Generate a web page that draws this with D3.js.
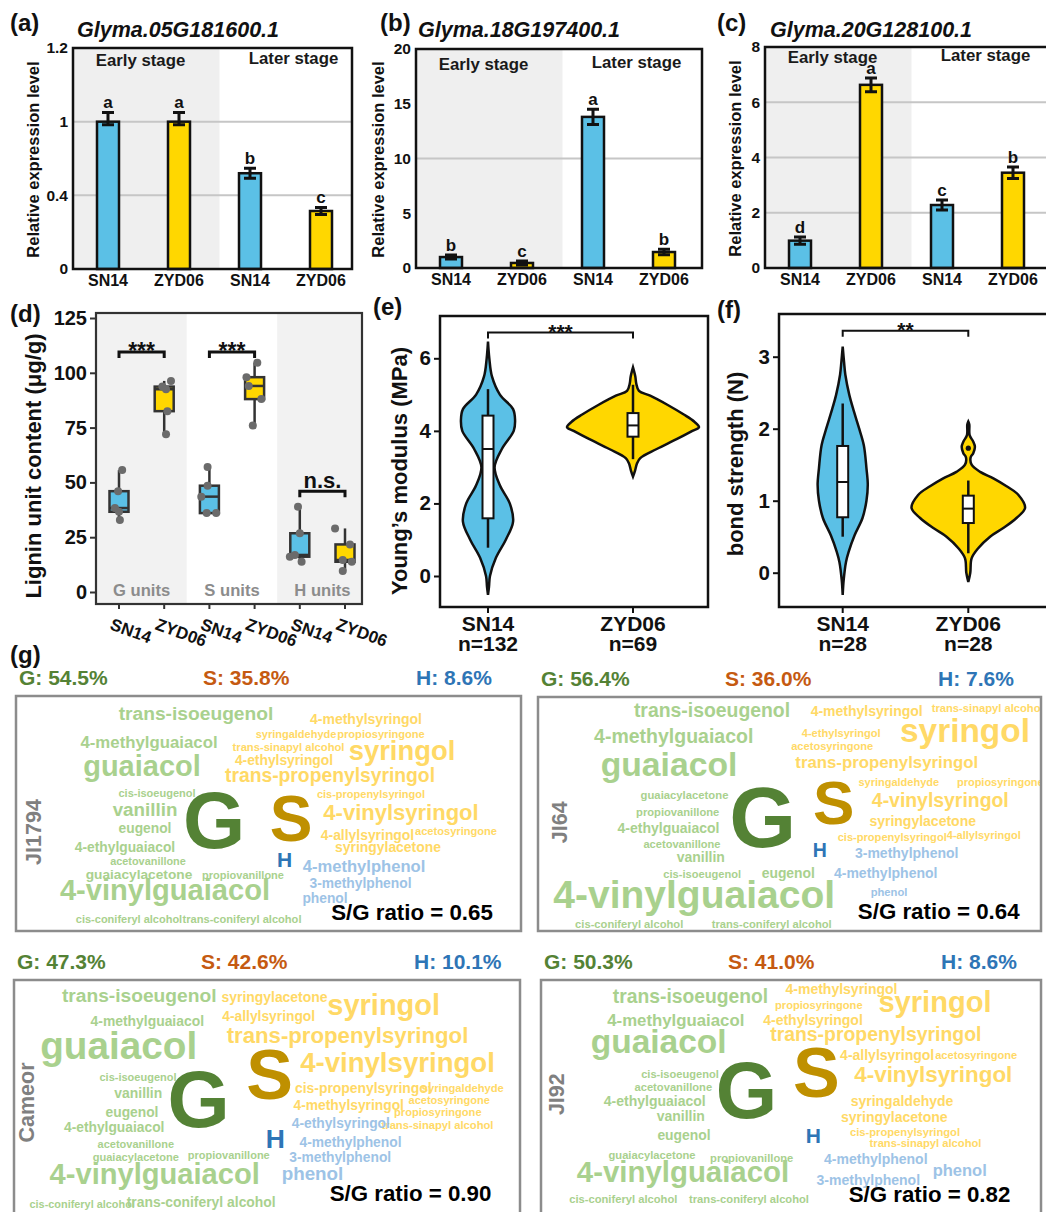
<!DOCTYPE html>
<html lang="en">
<head>
<meta charset="UTF-8">
<title>Lignin and stem mechanics: SN14 vs ZYD06</title>
<script src="https://d3js.org/d3.v7.min.js"></script>
<style>
  body { margin: 0; background: #ffffff; }
  svg { display: block; }
  text { font-family: "Liberation Sans", Arial, Helvetica, sans-serif; font-weight: bold; }
</style>
</head>
<body>
<script>
// ---------- (a)-(c) relative expression ----------
const barCats = ["SN14", "ZYD06", "SN14", "ZYD06"];
const stageNames = ["Early stage", "Later stage"];
const geneNames = ["Glyma.05G181600.1", "Glyma.18G197400.1", "Glyma.20G128100.1"];
const exprA = [1.0, 1.0, 0.58, 0.315];
const errA = [0.025, 0.025, 0.04, 0.019];
const letA = ["a", "a", "b", "c"];
const ticksA = [0, 0.4, 1, 1.2];
const gridA = [0.4, 1];
const exprB = [1.0, 0.46, 13.8, 1.46];
const errB = [0.18, 0.18, 0.7, 0.26];
const letB = ["b", "c", "a", "b"];
const ticksB = [0, 5, 10, 15, 20];
const gridB = [10];
const exprC = [0.99, 6.63, 2.28, 3.45];
const errC = [0.13, 0.25, 0.18, 0.21];
const letC = ["d", "a", "c", "b"];
const ticksC = [0, 2, 4, 6, 8];
const gridC = [2, 4, 6];

// ---------- (d) lignin unit content ----------
const unitNames = ["G units", "S units", "H units"];
const unitGenos = ["SN14", "ZYD06"];
const ligninVals = [
  [55.6, 46, 38.3, 36.6, 32.8],
  [96.3, 93.7, 92.5, 82.5, 72],
  [57, 48.5, 43.5, 36, 36],
  [104.6, 98, 94, 88, 76],
  [38.9, 26.8, 16.9, 16.1, 13.8],
  [29, 21.7, 14.6, 13.8, 9.6]
];
// horizontal jitter of each point, in category steps
const ligninJitter = [
  [0.07, -0.02, -0.09, 0, 0.02],
  [0.15, -0.04, 0.04, 0.07, 0.04],
  [-0.04, -0.04, -0.18, -0.06, 0.15],
  [0.06, -0.18, -0.13, 0.15, -0.04],
  [-0.04, 0, -0.11, -0.22, 0.04],
  [-0.22, 0.11, -0.05, 0.15, -0.05]
];
const ligninTicks = [0, 25, 50, 75, 100, 125];
const ligninSig = ["***", "***", "n.s."];
const ligninSigAt = [109.5, 109.5, 46];

// ---------- (e) Young's modulus, (f) bond strength ----------
const violinGroups = ["SN14", "ZYD06"];
const youngN = [132, 69];
const youngTicks = [0, 2, 4, 6];
// [value, relative density]
const youngDens = [
  [[-0.52, 0], [-0.3, 0.015], [0, 0.03], [0.5, 0.12], [1.0, 0.27], [1.5, 0.38], [2.0, 0.33], [2.5, 0.18],
   [3.0, 0.1], [3.5, 0.21], [4.0, 0.39], [4.3, 0.41], [4.6, 0.38], [5.0, 0.18], [5.5, 0.06], [6.0, 0.02], [6.46, 0]],
  [[2.74, 0], [2.9, 0.03], [3.1, 0.06], [3.25, 0.11], [3.5, 0.36], [3.77, 0.66], [4.0, 0.9], [4.1, 1.0],
   [4.25, 0.93], [4.45, 0.77], [4.72, 0.52], [4.97, 0.26], [5.1, 0.09], [5.3, 0.05], [5.5, 0.035], [5.75, 0]]
];
// [lower whisker, q1, median, q3, upper whisker]
const youngBox = [[0.78, 1.59, 3.5, 4.42, 5.15], [3.22, 3.84, 4.15, 4.49, 5.27]];
const youngOut = [[], []];
const youngSig = "***", youngSigAt = 6.71;

const bondN = [28, 28];
const bondTicks = [0, 1, 2, 3];
const bondDens = [
  [[-0.31, 0], [-0.1, 0.015], [0.15, 0.05], [0.29, 0.09], [0.52, 0.18], [0.76, 0.3], [1.0, 0.36], [1.22, 0.38],
   [1.45, 0.36], [1.77, 0.32], [2.0, 0.25], [2.24, 0.17], [2.47, 0.1], [2.75, 0.04], [2.93, 0.02], [3.14, 0]],
  [[-0.13, 0], [0, 0.03], [0.2, 0.05], [0.34, 0.15], [0.5, 0.33], [0.62, 0.53], [0.76, 0.73], [0.9, 0.86],
   [1.08, 0.76], [1.2, 0.58], [1.31, 0.38], [1.4, 0.18], [1.5, 0.05], [1.6, 0.035], [1.66, 0.075], [1.75, 0.1],
   [1.82, 0.075], [1.91, 0.02], [2.06, 0.015], [2.1, 0]]
];
const bondBox = [[0.5, 0.77, 1.26, 1.76, 2.35], [0.27, 0.69, 0.89, 1.07, 1.28]];
const bondOut = [[], [1.73]];
const bondSig = "**", bondSigAt = 3.36;

// ---------- (g) pyrolysis product word clouds ----------
const cloudSamples = ["JI1794", "JI64", "Cameor", "JI92"];
const pctG = [54.5, 56.4, 47.3, 50.3];
const pctS = [35.8, 36.0, 42.6, 41.0];
const pctH = [8.6, 7.6, 10.1, 8.6];
const sgRatio = [0.65, 0.64, 0.90, 0.82];
// [word, class, abundance size, cloud x, cloud y]
const cloudWords = [
  [
    ["trans-isoeugenol", "g", 19.2, 180, 24], ["4-methylguaiacol", "g", 16.8, 133, 52], ["guaiacol", "g", 29, 126, 80],
    ["cis-isoeugenol", "g", 11, 141, 101], ["vanillin", "g", 18.8, 129, 120], ["eugenol", "g", 13.8, 129, 137],
    ["4-ethylguaiacol", "g", 13.8, 109, 156], ["acetovanillone", "g", 10.9, 132, 169], ["guaiacylacetone", "g", 13.7, 123, 183],
    ["propiovanillone", "g", 11, 227, 183], ["4-vinylguaiacol", "g", 29.1, 149, 204], ["cis-coniferyl alcohol", "g", 11, 113, 227],
    ["trans-coniferyl alcohol", "g", 11.1, 226, 227],
    ["4-methylsyringol", "s", 14, 350, 28], ["syringaldehyde", "s", 11, 280, 42], ["propiosyringone", "s", 11.1, 365, 42],
    ["trans-sinapyl alcohol", "s", 11.2, 272.5, 55], ["4-ethylsyringol", "s", 13.8, 268, 69], ["syringol", "s", 27.4, 386, 64],
    ["trans-propenylsyringol", "s", 19.3, 314, 86], ["cis-propenylsyringol", "s", 11, 355, 102], ["4-vinylsyringol", "s", 22, 385, 124],
    ["4-allylsyringol", "s", 13.9, 351.5, 144], ["acetosyringone", "s", 11.1, 440, 139], ["syringylacetone", "s", 13.9, 372, 156],
    ["4-methylphenol", "h", 16.6, 348, 176], ["3-methylphenol", "h", 13.8, 344.5, 192], ["phenol", "h", 13.8, 309, 207],
    ["G", "G", 80, 198, 152], ["S", "S", 64, 275, 145], ["H", "H", 21, 268.5, 171]
  ],
  [
    ["trans-isoeugenol", "g", 19.4, 174, 19.7], ["4-methylguaiacol", "g", 19.5, 135.7, 46.3], ["guaiacol", "g", 33.7, 131, 78.7],
    ["guaiacylacetone", "g", 11.3, 146.5, 102], ["propiovanillone", "g", 11.2, 139.7, 118.7], ["4-ethylguaiacol", "g", 14, 130.5, 136.3],
    ["acetovanillone", "g", 11.1, 144, 150.7], ["vanillin", "g", 14, 162.8, 164.7], ["cis-isoeugenol", "g", 11.1, 164.2, 181.3],
    ["eugenol", "g", 13.9, 250.3, 181.3], ["4-vinylguaiacol", "g", 39, 156.2, 211.3], ["cis-coniferyl alcohol", "g", 11.2, 91.2, 230.7],
    ["trans-coniferyl alcohol", "g", 11.2, 233.7, 230.7],
    ["4-methylsyringol", "s", 14, 328.7, 18.7], ["trans-sinapyl alcohol", "s", 11.2, 449.7, 14.7], ["4-ethylsyringol", "s", 11.1, 303.2, 39.7],
    ["acetosyringone", "s", 11.1, 294.2, 53], ["syringol", "s", 33.4, 427, 45.3], ["trans-propenylsyringol", "s", 16.8, 348.7, 71.3],
    ["syringaldehyde", "s", 11, 360.8, 88.7], ["propiosyringone", "s", 11, 462.3, 88.7], ["4-vinylsyringol", "s", 19.4, 402.3, 109.7],
    ["syringylacetone", "s", 14, 384.7, 128.7], ["cis-propenylsyringol", "s", 11.1, 354.2, 144], ["4-allylsyringol", "s", 11, 445.8, 142.3],
    ["3-methylphenol", "h", 14, 368.7, 161.3], ["4-methylphenol", "h", 14, 347.7, 180.7], ["phenol", "h", 11.2, 351, 198.7],
    ["G", "G", 86, 224.8, 150.3], ["S", "S", 62, 295.7, 127], ["H", "H", 19.5, 281.7, 160.3]
  ],
  [
    ["trans-isoeugenol", "g", 19.2, 125.2, 22.3], ["4-methylguaiacol", "g", 13.9, 133.3, 46], ["guaiacol", "g", 38.7, 104.7, 79.3],
    ["cis-isoeugenol", "g", 11, 124, 100.7], ["vanillin", "g", 13.9, 124.3, 118.3], ["eugenol", "g", 13.8, 118, 136.7],
    ["4-ethylguaiacol", "g", 13.8, 100.2, 151.7], ["acetovanillone", "g", 11, 121.8, 168.3], ["guaiacylacetone", "g", 11.1, 121.8, 180.7],
    ["propiovanillone", "g", 11, 214.8, 179.3], ["4-vinylguaiacol", "g", 29.1, 140.7, 204], ["cis-coniferyl alcohol", "g", 10.9, 68.2, 228.3],
    ["trans-coniferyl alcohol", "g", 13.9, 187.2, 227.3],
    ["syringylacetone", "s", 13.9, 260.5, 21.7], ["syringol", "s", 29, 369.7, 35], ["4-allylsyringol", "s", 13.8, 254.7, 40.7],
    ["trans-propenylsyringol", "s", 22.2, 333.5, 62.7], ["4-vinylsyringol", "s", 27.6, 383.5, 91.7], ["cis-propenylsyringol", "s", 13.9, 349.3, 112.7],
    ["syringaldehyde", "s", 11.2, 448.8, 111.7], ["4-methylsyringol", "s", 13.8, 334.7, 130], ["acetosyringone", "s", 11, 435.2, 124.3],
    ["propiosyringone", "s", 11.1, 423.8, 136], ["trans-sinapyl alcohol", "s", 11.2, 423.5, 149],
    ["4-ethylsyringol", "h", 13.8, 326.8, 148.3], ["4-methylphenol", "h", 13.8, 336.5, 167.3], ["3-methylphenol", "h", 13.8, 326.2, 182.3],
    ["phenol", "h", 18.8, 298.5, 200],
    ["G", "G", 80, 184.5, 146.7], ["S", "S", 70, 255.7, 119.3], ["H", "H", 26.5, 261.3, 168.3]
  ],
  [
    ["trans-isoeugenol", "g", 19.3, 149.5, 22.7], ["4-methylguaiacol", "g", 16.8, 134.8, 46], ["guaiacol", "g", 33.5, 117.7, 73.3],
    ["cis-isoeugenol", "g", 11.1, 139, 98.3], ["acetovanillone", "g", 11.2, 132.3, 110.7], ["4-ethylguaiacol", "g", 14, 113.8, 125.7],
    ["vanillin", "g", 14, 139.8, 140.7], ["eugenol", "g", 13.9, 143, 160], ["guaiacylacetone", "g", 11.2, 111, 179.3],
    ["propiovanillone", "g", 11.2, 210.7, 182.3], ["4-vinylguaiacol", "g", 29.4, 142, 201.7], ["cis-coniferyl alcohol", "g", 11.2, 82.3, 223.3],
    ["trans-coniferyl alcohol", "g", 11.2, 208, 222.7],
    ["4-methylsyringol", "s", 14, 300.5, 14], ["propiosyringone", "s", 11.1, 277.8, 29.3], ["syringol", "s", 29.1, 394, 31.7],
    ["4-ethylsyringol", "s", 14, 272, 45], ["trans-propenylsyringol", "s", 19.4, 334.8, 61], ["4-allylsyringol", "s", 14, 346.2, 80],
    ["acetosyringone", "s", 11.1, 435.2, 79.3], ["4-vinylsyringol", "s", 22.4, 392.3, 102.3], ["syringaldehyde", "s", 14, 361, 125.7],
    ["syringylacetone", "s", 14, 353.3, 141.7], ["cis-propenylsyringol", "s", 11.2, 364, 155.7], ["trans-sinapyl alcohol", "s", 11.2, 384.5, 167.3],
    ["4-methylphenol", "h", 14, 334.8, 184.3], ["phenol", "h", 16.5, 418.7, 195.7], ["3-methylphenol", "h", 14, 327.3, 205],
    ["G", "G", 79, 205.5, 137.7], ["S", "S", 70, 275.3, 117.3], ["H", "H", 21, 272.3, 163.3]
  ]
];
const cloudLabelAt = [[17, 136], [21.3, 125.3], [12.7, 122.5], [15.7, 114.2]];
const cloudRatioAt = [[396, 224], [400.7, 222], [396.5, 220.7], [388.5, 221.7]];

// ---------- drawing ----------
const svg = d3.select("body").append("svg").attr("width", 1046).attr("height", 1212);
const BLUE = "#5bc0e6", YELLOW = "#ffd700", INK = "#111111";

function panelTag(label, x, y) {
  svg.append("text").attr("x", x).attr("y", y).attr("font-size", 24).attr("fill", INK).text(label);
}

function barPanel(p) {
  const g = svg.append("g");
  const b = p.box;
  const rows = p.values.map((v, i) => ({ i, v, e: p.errs[i], l: p.letters[i], c: barCats[i] }));
  const x = d3.scaleBand().domain(d3.range(rows.length)).range([b.x0 - 0.5, b.x0 - 0.5 + 4 * 71]);
  const y = d3.scaleLinear().domain(p.ticks)
    .range(p.ticks.map((t, i) => b.y1 - i * (b.y1 - b.y0) / (p.ticks.length - 1)));
  const cx = i => x(i) + x.bandwidth() / 2;
  const bw = 22, cap = 6;

  // early-stage shading
  g.append("rect").attr("x", b.x0).attr("y", b.y0)
    .attr("width", x(2) + 5 - b.x0).attr("height", b.y1 - b.y0).attr("fill", "#efefef");

  g.selectAll(".grid").data(p.grid).join("line")
    .attr("x1", b.x0).attr("x2", b.x1)
    .attr("y1", d => y(d)).attr("y2", d => y(d))
    .attr("stroke", "#c6c6c6").attr("stroke-width", 2);

  g.selectAll(".bar").data(rows).join("rect")
    .attr("x", d => cx(d.i) - bw / 2).attr("width", bw)
    .attr("y", d => y(d.v)).attr("height", d => y(0) - y(d.v))
    .attr("fill", d => d.i % 2 ? YELLOW : BLUE)
    .attr("stroke", INK).attr("stroke-width", 2.5);

  g.selectAll(".err").data(rows).join("path")
    .attr("d", d => {
      const xc = cx(d.i), t = y(d.v + d.e), u = y(d.v - d.e);
      return `M${xc - cap},${t}H${xc + cap}M${xc},${t}V${u}M${xc - cap},${u}H${xc + cap}`;
    })
    .attr("fill", "none").attr("stroke", INK).attr("stroke-width", 3);

  g.selectAll(".let").data(rows).join("text")
    .attr("x", d => cx(d.i)).attr("y", d => y(d.v + d.e) - 4)
    .attr("text-anchor", "middle").attr("font-size", 17).attr("fill", INK).text(d => d.l);

  g.append("rect").attr("x", b.x0).attr("y", b.y0)
    .attr("width", b.x1 - b.x0).attr("height", b.y1 - b.y0)
    .attr("fill", "none").attr("stroke", INK).attr("stroke-width", 2.5);

  const ax = g.append("g").attr("transform", `translate(${b.x0},0)`)
    .call(d3.axisLeft(y).tickValues(p.ticks).tickSize(0).tickPadding(5).tickFormat(d3.format("")));
  ax.select(".domain").remove();
  ax.attr("font-size", 15.5).selectAll("text").attr("fill", INK);

  g.selectAll(".xl").data(rows).join("text")
    .attr("x", d => cx(d.i)).attr("y", b.y1 + 17)
    .attr("text-anchor", "middle").attr("font-size", 16).attr("fill", INK).text(d => d.c);

  g.selectAll(".stage").data(stageNames).join("text")
    .attr("x", (d, k) => (cx(2 * k) + cx(2 * k + 1)) / 2 + (k ? 8 : -3))
    .attr("y", (d, k) => p.stageY - k * 1.5)
    .attr("text-anchor", "middle").attr("font-size", 16.8).attr("fill", "#1a1a1a").text(d => d);

  g.append("text")
    .attr("transform", `translate(${p.titleX},${(b.y0 + b.y1) / 2 + 1}) rotate(-90)`)
    .attr("dy", "0.35em").attr("text-anchor", "middle").attr("font-size", 16.5)
    .attr("fill", INK).text("Relative expression level");

  svg.append("text").attr("x", p.geneX).attr("y", 37)
    .attr("font-size", 21.5).attr("font-style", "italic").attr("fill", INK).text(p.gene);
  panelTag(p.tag, p.tagX, 31);
}

barPanel({ tag: "(a)", tagX: 10, gene: geneNames[0], geneX: 77, values: exprA, errs: errA, letters: letA,
  ticks: ticksA, grid: gridA, box: { x0: 73, y0: 48, x1: 352, y1: 269 }, titleX: 33, stageY: 65.5 });
barPanel({ tag: "(b)", tagX: 380, gene: geneNames[1], geneX: 418, values: exprB, errs: errB, letters: letB,
  ticks: ticksB, grid: gridB, box: { x0: 416, y0: 49, x1: 702, y1: 268 }, titleX: 378, stageY: 69.5 });
barPanel({ tag: "(c)", tagX: 717, gene: geneNames[2], geneX: 770, values: exprC, errs: errC, letters: letC,
  ticks: ticksC, grid: gridC, box: { x0: 765, y0: 47, x1: 1048, y1: 268 }, titleX: 735, stageY: 62.5 });

// ----- (d) -----
(function ligninPanel() {
  const g = svg.append("g");
  const b = { x0: 96, y0: 313, x1: 362, y1: 604 };
  const keys = d3.range(ligninVals.length);
  const x = d3.scalePoint().domain(keys).range([119, 345]);
  const y = d3.scaleLinear().domain([0, 125]).range([592, 318]);
  const step = x.step(), bw = 19;

  const edges = [b.x0, (x(1) + x(2)) / 2, (x(3) + x(4)) / 2, b.x1];
  g.selectAll(".band").data(unitNames).join("rect")
    .attr("x", (d, k) => edges[k]).attr("width", (d, k) => edges[k + 1] - edges[k])
    .attr("y", b.y0).attr("height", b.y1 - b.y0)
    .attr("fill", (d, k) => k === 1 ? "#ffffff" : "#f2f2f2");

  g.selectAll(".unit").data(unitNames).join("text")
    .attr("x", (d, k) => (x(2 * k) + x(2 * k + 1)) / 2).attr("y", y(0) + 4)
    .attr("text-anchor", "middle").attr("font-size", 16.6).attr("fill", "#8c8c8c").text(d => d);

  const stats = ligninVals.map(v => {
    const s = v.slice().sort(d3.ascending);
    const q1 = d3.quantileSorted(s, 0.25), md = d3.quantileSorted(s, 0.5), q3 = d3.quantileSorted(s, 0.75);
    const iqr = q3 - q1;
    return { q1, md, q3,
      lo: d3.min(s.filter(d => d >= q1 - 1.5 * iqr)), hi: d3.max(s.filter(d => d <= q3 + 1.5 * iqr)) };
  });

  keys.forEach(k => {
    const s = stats[k], xc = x(k);
    g.append("line").attr("x1", xc).attr("x2", xc).attr("y1", y(s.lo)).attr("y2", y(s.hi))
      .attr("stroke", "#333").attr("stroke-width", 2.5);
    g.append("rect").attr("x", xc - bw / 2).attr("width", bw)
      .attr("y", y(s.q3)).attr("height", y(s.q1) - y(s.q3))
      .attr("fill", k % 2 ? YELLOW : BLUE).attr("stroke", "#333").attr("stroke-width", 2.5);
    g.append("line").attr("x1", xc - bw / 2).attr("x2", xc + bw / 2).attr("y1", y(s.md)).attr("y2", y(s.md))
      .attr("stroke", "#333").attr("stroke-width", 2.5);
    g.selectAll(null).data(ligninVals[k]).join("circle")
      .attr("cx", (d, j) => xc + ligninJitter[k][j] * step).attr("cy", d => y(d))
      .attr("r", 4).attr("fill", "#6b6b6b");
  });

  ligninSig.forEach((s, k) => {
    const xa = x(2 * k), xb = x(2 * k + 1), yb = y(ligninSigAt[k]);
    g.append("path").attr("d", `M${xa},${yb + 6}V${yb}H${xb}V${yb + 6}`)
      .attr("fill", "none").attr("stroke", INK).attr("stroke-width", 3);
    g.append("text").attr("x", (xa + xb) / 2).attr("y", s === "n.s." ? yb - 3 : yb + 7)
      .attr("text-anchor", "middle").attr("font-size", s === "n.s." ? 22 : 23).attr("fill", INK).text(s);
  });

  g.append("rect").attr("x", b.x0).attr("y", b.y0).attr("width", b.x1 - b.x0).attr("height", b.y1 - b.y0)
    .attr("fill", "none").attr("stroke", "#333").attr("stroke-width", 2.2);

  const ax = g.append("g").attr("transform", `translate(${b.x0},0)`)
    .call(d3.axisLeft(y).tickValues(ligninTicks).tickSize(6).tickPadding(3).tickFormat(d3.format("d")));
  ax.select(".domain").remove();
  ax.attr("font-size", 20);
  ax.selectAll("line").attr("stroke", "#333").attr("stroke-width", 2);
  ax.selectAll("text").attr("fill", INK);

  g.selectAll(".xt").data(keys).join("line")
    .attr("x1", k => x(k)).attr("x2", k => x(k)).attr("y1", b.y1).attr("y2", b.y1 + 5)
    .attr("stroke", "#333").attr("stroke-width", 2);
  g.selectAll(".xl").data(keys).join("text")
    .attr("transform", k => `translate(${x(k) - 10},${b.y1 + 25}) rotate(20)`)
    .attr("font-size", 17).attr("fill", INK).text(k => unitGenos[k % 2]);

  g.append("text").attr("transform", `translate(33,466) rotate(-90)`)
    .attr("dy", "0.35em").attr("text-anchor", "middle").attr("font-size", 22).attr("fill", INK)
    .text("Lignin unit content (\u03bcg/g)");
  panelTag("(d)", 10, 322);
})();

// ----- (e), (f) -----
const wScale = d3.scaleLinear().domain([0, 1]).range([0, 66]);

function violinPanel(p) {
  const g = svg.append("g");
  const b = p.box;
  const x = d3.scalePoint().domain(violinGroups).range(p.xRange);
  const y = d3.scaleLinear().domain([p.ticks[0], p.ticks[p.ticks.length - 1]]).range(p.yRange);
  const area = d3.area().curve(d3.curveCatmullRom.alpha(0.5)).y(d => y(d[0]));
  const bw = 11;

  violinGroups.forEach((grp, k) => {
    const c = x(grp), s = p.box5[k];
    g.append("path").datum(p.dens[k])
      .attr("d", area.x0(d => c - wScale(d[1])).x1(d => c + wScale(d[1])))
      .attr("fill", k ? YELLOW : BLUE).attr("stroke", INK).attr("stroke-width", 2.5);
    g.append("line").attr("x1", c).attr("x2", c).attr("y1", y(s[0])).attr("y2", y(s[4]))
      .attr("stroke", INK).attr("stroke-width", 2.5);
    g.append("rect").attr("x", c - bw / 2).attr("width", bw)
      .attr("y", y(s[3])).attr("height", y(s[1]) - y(s[3]))
      .attr("fill", "#ffffff").attr("stroke", INK).attr("stroke-width", 2);
    g.append("line").attr("x1", c - bw / 2).attr("x2", c + bw / 2).attr("y1", y(s[2])).attr("y2", y(s[2]))
      .attr("stroke", INK).attr("stroke-width", 2);
    g.selectAll(null).data(p.out[k]).join("circle")
      .attr("cx", c).attr("cy", d => y(d)).attr("r", 2.6).attr("fill", INK);
  });

  const xa = x(violinGroups[0]), xb = x(violinGroups[1]), yb = y(p.sigAt);
  g.append("path").attr("d", `M${xa},${yb + 6}V${yb}H${xb}V${yb + 6}`)
    .attr("fill", "none").attr("stroke", INK).attr("stroke-width", 2);
  g.append("text").attr("x", (xa + xb) / 2).attr("y", yb + 6.5)
    .attr("text-anchor", "middle").attr("font-size", 21).attr("fill", INK).text(p.sig);

  g.append("rect").attr("x", b.x0).attr("y", b.y0).attr("width", b.x1 - b.x0).attr("height", b.y1 - b.y0)
    .attr("fill", "none").attr("stroke", INK).attr("stroke-width", 2.5);

  const ax = g.append("g").attr("transform", `translate(${b.x0},0)`)
    .call(d3.axisLeft(y).tickValues(p.ticks).tickSize(6).tickPadding(3).tickFormat(d3.format("d")));
  ax.select(".domain").remove();
  ax.attr("font-size", 20.5);
  ax.selectAll("line").attr("stroke", INK).attr("stroke-width", 2);
  ax.selectAll("text").attr("fill", INK);

  g.selectAll(".xt").data(violinGroups).join("line")
    .attr("x1", d => x(d)).attr("x2", d => x(d)).attr("y1", b.y1).attr("y2", b.y1 + 6)
    .attr("stroke", INK).attr("stroke-width", 2);
  const xl = g.selectAll(".xl").data(violinGroups).join("text")
    .attr("text-anchor", "middle").attr("font-size", 21).attr("fill", INK);
  xl.append("tspan").attr("x", d => x(d)).attr("y", 631).text(d => d);
  xl.append("tspan").attr("x", d => x(d)).attr("y", 651).text((d, k) => "n=" + p.n[k]);

  g.append("text").attr("transform", `translate(${p.titleX},${p.titleY}) rotate(-90)`)
    .attr("dy", "0.35em").attr("text-anchor", "middle").attr("font-size", 22).attr("fill", INK).text(p.title);
  panelTag(p.tag, p.tagX, p.tagY);
}

violinPanel({ tag: "(e)", tagX: 373, tagY: 315, box: { x0: 440, y0: 316, x1: 708, y1: 607 },
  xRange: [488, 633], ticks: youngTicks, yRange: [576, 358.3], dens: youngDens, box5: youngBox, out: youngOut,
  sig: youngSig, sigAt: youngSigAt, n: youngN, title: "Young\u2019s modulus (MPa)", titleX: 399, titleY: 471 });
violinPanel({ tag: "(f)", tagX: 717, tagY: 318, box: { x0: 779, y0: 314, x1: 1048, y1: 607 },
  xRange: [842.7, 968.3], ticks: bondTicks, yRange: [572.7, 356.7], dens: bondDens, box5: bondBox, out: bondOut,
  sig: bondSig, sigAt: bondSigAt, n: bondN, title: "bond strength (N)", titleX: 735, titleY: 464 });

// ----- (g) -----
const wordColor = { g: "#a9d18e", s: "#ffd966", h: "#9dc3e6", G: "#548235", S: "#bf9000", H: "#2e75b6" };
const headColor = { G: "#548235", S: "#c55a11", H: "#2e75b6" };
const cloudBoxes = [
  { x0: 16, y0: 696, x1: 521, y1: 931 },
  { x0: 538, y0: 697, x1: 1041, y1: 931 },
  { x0: 14, y0: 980, x1: 520, y1: 1216 },
  { x0: 541, y0: 980, x1: 1041, y1: 1216 }
];

function cloudPanel(k) {
  const b = cloudBoxes[k];
  const g = svg.append("g");
  const cx = d3.scaleLinear().domain([0, 505]).range([b.x0, b.x0 + 505]);
  const cy = d3.scaleLinear().domain([0, 235]).range([b.y0, b.y0 + 235]);
  const fs = d3.scaleLinear().domain([0, 100]).range([0, 100]);

  const head = [["G", pctG[k]], ["S", pctS[k]], ["H", pctH[k]]];
  const headX = [3, 187, 400];
  g.selectAll(".head").data(head).join("text")
    .attr("x", (d, i) => b.x0 + headX[i]).attr("y", b.y0 - 11)
    .attr("font-size", 21).attr("fill", d => headColor[d[0]])
    .text(d => `${d[0]}: ${d[1].toFixed(1)}%`);

  g.append("clipPath").attr("id", "cloudclip" + k).append("rect")
    .attr("x", b.x0 + 1).attr("y", b.y0 + 1).attr("width", b.x1 - b.x0 - 2).attr("height", b.y1 - b.y0 - 2);
  const inner = g.append("g").attr("clip-path", `url(#cloudclip${k})`);

  const words = cloudWords[k].filter(w => w[1] === w[1].toLowerCase())
    .concat(cloudWords[k].filter(w => w[1] !== w[1].toLowerCase()));
  inner.selectAll(".w").data(words).join("text")
    .attr("x", d => cx(d[3])).attr("y", d => cy(d[4]))
    .attr("text-anchor", "middle").attr("font-size", d => fs(d[2]))
    .attr("fill", d => wordColor[d[1]]).text(d => d[0]);

  inner.append("text")
    .attr("transform", `translate(${cx(cloudLabelAt[k][0])},${cy(cloudLabelAt[k][1])}) rotate(-90)`)
    .attr("dy", "0.35em").attr("text-anchor", "middle").attr("font-size", 21.5).attr("fill", "#808080")
    .text(cloudSamples[k]);
  inner.append("text").attr("x", cx(cloudRatioAt[k][0])).attr("y", cy(cloudRatioAt[k][1]))
    .attr("text-anchor", "middle").attr("font-size", 22.3).attr("fill", "#000")
    .text(`S/G ratio = ${sgRatio[k].toFixed(2)}`);

  g.append("rect").attr("x", b.x0).attr("y", b.y0).attr("width", b.x1 - b.x0).attr("height", b.y1 - b.y0)
    .attr("fill", "none").attr("stroke", "#8c8c8c").attr("stroke-width", 2.5);
}

cloudSamples.forEach((s, k) => cloudPanel(k));
panelTag("(g)", 10, 663);
</script>
</body>
</html>
